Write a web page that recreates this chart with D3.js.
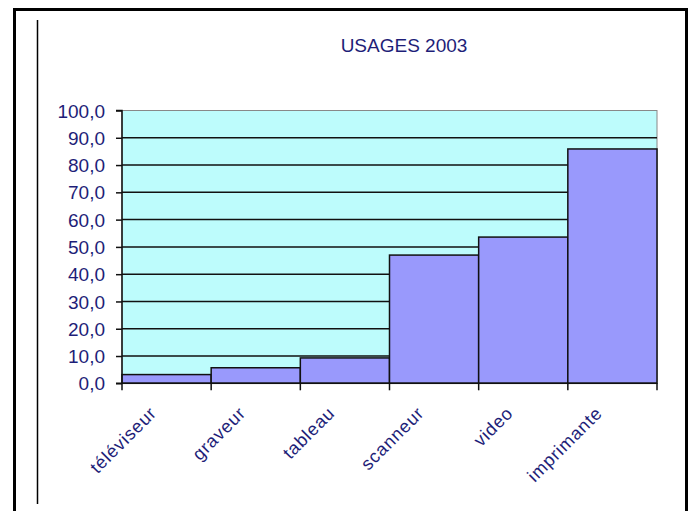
<!DOCTYPE html>
<html><head><meta charset="utf-8">
<script src="https://cdn.jsdelivr.net/npm/d3@7"></script>
<style>html,body{margin:0;padding:0;background:#fff;}svg{display:block;}</style>
</head><body>
<script>
const categories = ["téléviseur","graveur","tableau","scanneur","video","imprimante"];
const values = [3.2, 5.7, 9.3, 47.0, 53.6, 85.9];
const yTicks = [0,10,20,30,40,50,60,70,80,90,100];
const title = "USAGES 2003";

const W = 693, H = 511;
const svg = d3.select("body").append("svg").attr("width", W).attr("height", H);
const navy = "#1e1e78";

// outer frame
svg.append("path").attr("d", "M14.5,511 V9.5 H686.5 V511").attr("fill","none").attr("stroke","#000").attr("stroke-width",3);
svg.append("line").attr("x1",37.5).attr("x2",37.5).attr("y1",20).attr("y2",504).attr("stroke","#000").attr("stroke-width",1.5);

const pL = 122, pR = 657, pT = 110.5, pB = 383.3;
const x = d3.scaleBand().domain(categories).range([pL, pR]).padding(0);
const y = d3.scaleLinear().domain([0,100]).range([pB, pT]);

// plot background
svg.append("rect").attr("x",pL).attr("y",pT).attr("width",pR-pL).attr("height",pB-pT)
  .attr("fill","#bdfcfc").attr("stroke","#888").attr("stroke-width",1);

// gridlines
svg.append("g").selectAll("line").data(yTicks.filter(d=>d>0 && d<100)).join("line")
  .attr("x1",pL).attr("x2",pR).attr("y1",d=>y(d)).attr("y2",d=>y(d))
  .attr("stroke","#111").attr("stroke-width",1.5);

// bars
svg.append("g").selectAll("rect").data(values).join("rect")
  .attr("x",(d,i)=>x(categories[i]))
  .attr("width",x.bandwidth())
  .attr("y",d=>y(d))
  .attr("height",d=>pB-y(d))
  .attr("fill","#9999fc").attr("stroke","#111").attr("stroke-width",1.5);

// y axis
const yAxis = d3.axisLeft(y).tickValues(yTicks).tickSize(6).tickPadding(11)
  .tickFormat(d=>d3.format(".1f")(d).replace(".",","));
const gy = svg.append("g").attr("transform",`translate(${pL},0)`).call(yAxis);
gy.select(".domain").attr("stroke","#111").attr("stroke-width",1.5).attr("d",`M-6,${pT}H0V${pB}H-6`);
gy.selectAll(".tick line").attr("stroke","#111").attr("stroke-width",1.5);
gy.selectAll(".tick text").attr("fill",navy).style("font-family","'Liberation Sans', Arial, sans-serif")
  .style("font-size","19px").attr("dy","0.35em");

// x axis
const bounds = categories.map(c=>x(c)).concat([pR]);
const gx = svg.append("g");
gx.append("line").attr("x1",pL).attr("x2",pR).attr("y1",pB).attr("y2",pB).attr("stroke","#111").attr("stroke-width",1.5);
gx.selectAll("line.t").data(bounds).join("line").attr("class","t")
  .attr("x1",d=>d).attr("x2",d=>d).attr("y1",pB).attr("y2",pB+7).attr("stroke","#111").attr("stroke-width",1.5);
gx.selectAll("text").data(categories).join("text")
  .attr("transform",d=>`translate(${x(d)+x.bandwidth()/2-9},${pB+31}) rotate(-45)`)
  .attr("text-anchor","end").attr("fill",navy)
  .style("font-family","'Liberation Sans', Arial, sans-serif").style("font-size","18px")
  .style("letter-spacing","0.8px")
  .text(d=>d);

// title
svg.append("text").attr("x",404).attr("y",52).attr("text-anchor","middle").attr("fill",navy)
  .style("font-family","'Liberation Sans', Arial, sans-serif").style("font-size","19px").text(title);
</script>
</body></html>
